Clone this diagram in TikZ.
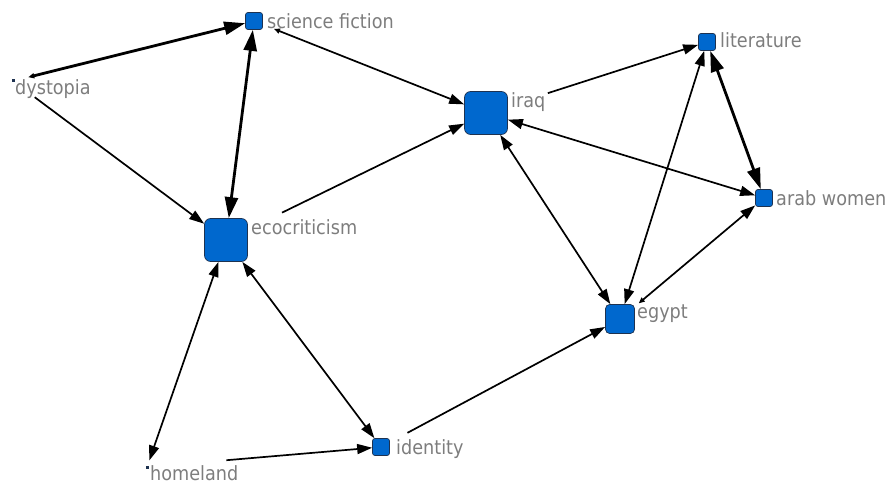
\documentclass[tikz,border=0pt]{standalone}
\usepackage{fontspec}
\setmainfont{DejaVu Sans}[FakeStretch=0.9]
\usetikzlibrary{arrows.meta}
\definecolor{nodeblue}{RGB}{0,104,206}
\definecolor{nodeedge}{RGB}{30,50,80}
\definecolor{lblgray}{RGB}{125,125,125}
\begin{document}
\begin{tikzpicture}[x=1pt,y=-1pt,
  sq/.style={draw=nodeedge, fill=nodeblue, line width=0.7pt, inner sep=0pt, minimum size=#1, rounded corners=#1/7},
  tiny/.style={fill=nodeedge, inner sep=0pt, minimum size=3pt},
  lbl/.style={anchor=base west, inner sep=0pt, text=lblgray, font=\fontsize{19.6}{20}\selectfont},
  normE/.style={line width=1.7pt, black},
  thickE/.style={line width=2.8pt, black},
  big/.tip={Triangle[length=15pt,width=10pt]},
  thk/.tip={Triangle[length=21pt,width=13pt]},
  sml/.tip={Triangle[length=6pt,width=5pt]}
]
\useasboundingbox (0,0) rectangle (888,484);

% nodes
\node[sq=17pt] (sf) at (254,21) {};
\node[tiny] (dys) at (13,81) {};
\node[sq=43pt] (iraq) at (486,113) {};
\node[sq=17pt] (lit) at (707,42) {};
\node[sq=17pt] (arab) at (764,198) {};
\node[sq=43pt] (eco) at (226,240) {};
\node[sq=29pt] (egypt) at (620,319) {};
\node[sq=17pt] (ident) at (381,447) {};
\node[tiny] (home) at (147,467) {};

% labels
\node[lbl] (sfl) at (267,29) {science fiction};
\node[lbl] (dysl) at (15,95) {dystopia};
\node[lbl] (iraql) at (511,107) {iraq};
\node[lbl] (litl) at (720,48) {literature};
\node[lbl] (arabl) at (776,205) {arab women};
\node[lbl] (ecol) at (251,234) {ecocriticism};
\node[lbl] (egyptl) at (637,318) {egypt};
\node[lbl] (identl) at (396,454) {identity};
\node[lbl] (homel) at (150,480) {homeland};

% edges
\draw[thickE, {sml}-{thk}, shorten <=14pt] (dys) -- (sf);
\draw[normE, -{big}, shorten <=25pt] (dys) -- (eco);
\draw[thickE, {thk}-{thk}] (sf) -- (eco);
\draw[normE, {sml}-{big}, shorten <=12pt] (sf) -- (iraq);
\draw[normE, -{big}, shorten <=38pt] (eco) -- (iraq);
\draw[normE, -{big}, shorten <=42pt] (iraq) -- (lit);
\draw[normE, {big}-{big}] (iraq) -- (arab);
\draw[thickE, {thk}-{thk}] (lit) -- (arab);
\draw[normE, {big}-{big}] (iraq) -- (egypt);
\draw[normE, {big}-{big}] (egypt) -- (lit);
\draw[normE, {sml}-{big}, shorten <=5pt] (egypt) -- (arab);
\draw[normE, {big}-{big}, shorten >=5pt] (eco) -- (home);
\draw[normE, {big}-{big}] (eco) -- (ident);
\draw[normE, -{big}, shorten <=78pt] (home) -- (ident);
\draw[normE, -{big}, shorten <=20pt] (ident) -- (egypt);
\end{tikzpicture}
\end{document}
